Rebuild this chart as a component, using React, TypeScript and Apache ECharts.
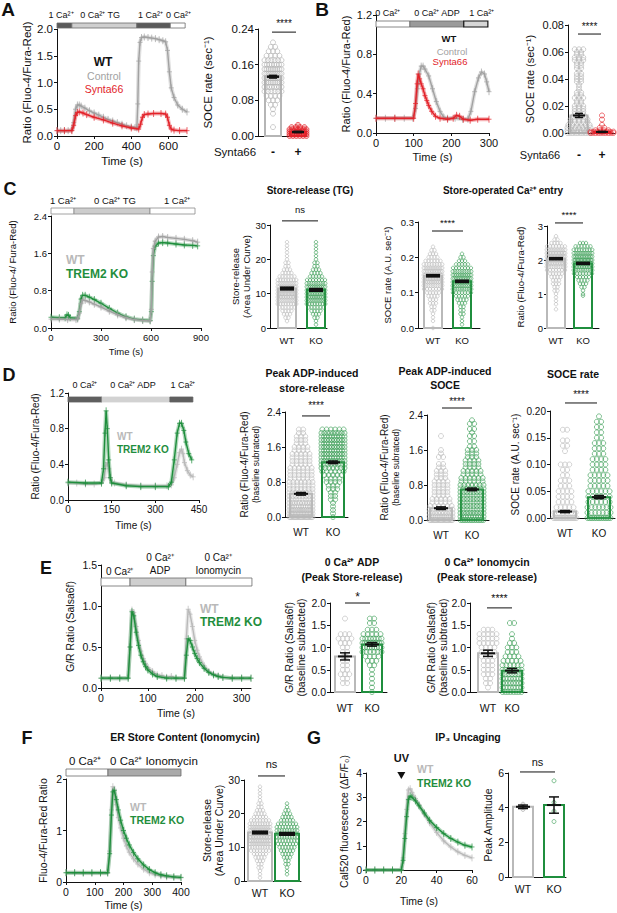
import React, { useEffect, useRef } from "react";
import * as echarts from "echarts";

const FONT = "'Liberation Sans', Arial, Helvetica, sans-serif";
const BLACK = "#111111";
const GRAY = "#a2a2a2";
const LIGHT = "#b9b9b9";
const RED = "#e2232a";
const GREEN = "#1f8e3d";
const GREEN_PT = "#3b9e55";

// ---------------- time traces: [time (s), ratio] ----------------
const aControl = [[0,0.10],[20,0.10],[40,0.10],[60,0.10],[80,0.11],[90,0.25],[100,0.50],[110,0.58],[120,0.58],[130,0.56],[150,0.52],[175,0.47],[200,0.43],[225,0.39],[250,0.35],[275,0.31],[300,0.28],[325,0.25],[350,0.22],[375,0.19],[400,0.17],[420,0.16],[430,0.15],[435,0.60],[440,1.40],[447,1.75],[455,1.84],[470,1.85],[490,1.84],[510,1.83],[530,1.82],[550,1.80],[570,1.78],[585,1.76],[595,1.60],[605,1.20],[615,0.90],[630,0.72],[650,0.58],[675,0.50],[700,0.45]];
const aSynta66 = [[0,0.10],[40,0.10],[80,0.10],[90,0.20],[100,0.38],[110,0.44],[120,0.45],[140,0.43],[160,0.40],[200,0.35],[250,0.30],[300,0.24],[350,0.19],[400,0.15],[440,0.13],[450,0.22],[460,0.35],[470,0.40],[490,0.41],[520,0.42],[560,0.42],[585,0.41],[595,0.35],[605,0.20],[615,0.13],[630,0.11],[660,0.10],[700,0.10]];

const bControl = [[0,0.15],[25,0.15],[50,0.15],[75,0.15],[98,0.15],[105,0.25],[110,0.45],[115,0.60],[120,0.68],[125,0.68],[130,0.65],[140,0.58],[150,0.45],[160,0.32],[170,0.22],[180,0.16],[190,0.15],[210,0.15],[230,0.14],[244,0.14],[252,0.22],[262,0.42],[272,0.56],[280,0.62],[288,0.60],[294,0.52],[300,0.42]];
const bSynta66 = [[0,0.15],[50,0.15],[100,0.15],[105,0.30],[109,0.50],[112,0.60],[116,0.55],[120,0.50],[125,0.45],[130,0.38],[135,0.33],[140,0.28],[148,0.22],[158,0.17],[170,0.15],[190,0.14],[205,0.15],[214,0.18],[222,0.17],[232,0.14],[250,0.13],[270,0.14],[300,0.14]];

const cWT = [[0,0.19],[50,0.19],[100,0.18],[150,0.18],[160,0.19],[170,0.32],[180,0.52],[190,0.60],[205,0.59],[230,0.56],[260,0.51],[300,0.45],[350,0.36],[400,0.28],[450,0.22],[500,0.18],[550,0.16],[595,0.15],[602,0.40],[607,1.20],[614,1.70],[625,1.86],[645,1.95],[670,1.96],[700,1.94],[750,1.92],[800,1.90],[850,1.87],[880,1.84]];
const cKO = [[0,0.23],[50,0.22],[85,0.22],[96,0.28],[105,0.27],[115,0.22],[160,0.21],[170,0.35],[180,0.62],[190,0.70],[205,0.70],[230,0.66],[260,0.61],[300,0.53],[350,0.42],[400,0.32],[450,0.24],[500,0.19],[550,0.17],[595,0.16],[602,0.35],[607,1.00],[614,1.55],[625,1.75],[645,1.82],[670,1.83],[700,1.82],[750,1.80],[800,1.78],[850,1.77],[880,1.76]];

const dWT = [[0,0.19],[30,0.19],[60,0.18],[90,0.18],[115,0.19],[125,0.25],[130,0.38],[135,0.42],[140,0.35],[145,0.25],[150,0.20],[160,0.19],[200,0.17],[250,0.16],[300,0.16],[340,0.16],[355,0.17],[365,0.25],[375,0.40],[383,0.53],[390,0.57],[395,0.52],[400,0.42],[410,0.33],[420,0.28],[430,0.26]];
const dKO = [[0,0.20],[60,0.19],[115,0.19],[122,0.35],[127,0.75],[131,1.00],[135,0.80],[140,0.45],[145,0.25],[150,0.19],[200,0.16],[250,0.15],[300,0.15],[345,0.15],[355,0.20],[365,0.45],[375,0.75],[383,0.86],[390,0.86],[398,0.78],[405,0.65],[415,0.52],[425,0.45]];

const eWT = [[0,0.12],[20,0.12],[40,0.12],[58,0.12],[62,0.50],[66,0.95],[70,0.92],[75,0.75],[80,0.58],[85,0.45],[90,0.36],[95,0.30],[100,0.25],[110,0.20],[120,0.16],[130,0.15],[140,0.13],[150,0.14],[160,0.12],[178,0.12],[182,0.60],[186,0.96],[190,0.90],[195,0.75],[200,0.58],[205,0.46],[210,0.38],[220,0.27],[230,0.20],[240,0.17],[250,0.15],[260,0.13],[280,0.12],[300,0.12],[320,0.12]];
const eKO = [[0,0.12],[20,0.12],[40,0.12],[58,0.12],[62,0.50],[66,0.93],[70,0.88],[75,0.68],[80,0.52],[85,0.40],[90,0.32],[95,0.26],[100,0.22],[110,0.17],[120,0.14],[140,0.12],[160,0.12],[178,0.12],[182,0.40],[186,0.60],[190,0.58],[195,0.50],[200,0.42],[205,0.36],[210,0.31],[220,0.24],[230,0.19],[240,0.16],[250,0.14],[260,0.13],[280,0.12],[300,0.12],[320,0.12]];

const fWT = [[0,0.18],[30,0.18],[60,0.17],[90,0.17],[120,0.17],[145,0.17],[152,0.60],[158,1.40],[163,1.85],[168,1.80],[175,1.50],[182,1.25],[190,1.05],[200,0.85],[210,0.70],[220,0.58],[235,0.45],[250,0.35],[270,0.25],[290,0.18],[310,0.14],[330,0.12],[350,0.10],[375,0.09],[400,0.08]];
const fKO = [[0,0.18],[30,0.18],[60,0.18],[90,0.18],[120,0.18],[145,0.18],[152,0.55],[158,1.30],[163,1.75],[168,1.78],[175,1.60],[182,1.40],[190,1.20],[200,1.00],[210,0.85],[220,0.72],[235,0.57],[250,0.45],[270,0.33],[290,0.24],[310,0.18],[330,0.14],[350,0.12],[375,0.10],[400,0.09]];

const gWT = [[0,0],[5,0],[10,0],[15,0],[20,0],[21,0.5],[22,1.5],[23,2.5],[24,3.3],[25,3.35],[26,3.2],[28,2.95],[30,2.7],[33,2.3],[36,1.95],[40,1.55],[44,1.2],[48,0.95],[52,0.75],[56,0.6],[60,0.5]];
const gKO = [[0,0],[5,0],[10,0],[15,0],[20,0],[21,0.4],[22,1.3],[23,2.2],[24,2.9],[25,3.05],[26,3.0],[28,2.85],[30,2.65],[33,2.35],[36,2.05],[40,1.75],[44,1.5],[48,1.3],[52,1.15],[56,1.02],[60,0.95]];

// ---------------- individual cells: [value, number of cells at that value] ----------------
const aCtrlCells = [[0.21,1],[0.20,2],[0.19,3],[0.18,4],[0.17,6],[0.16,8],[0.15,9],[0.14,10],[0.13,10],[0.12,9],[0.11,8],[0.10,6],[0.09,4],[0.08,3],[0.07,2],[0.06,1],[0.05,1],[0.02,1]];
const aSyntaCells = [[0.025,1],[0.02,4],[0.015,7],[0.01,9],[0.005,8],[0,6]];
const bCtrlCells = [[0.062,3],[0.060,2],[0.058,2],[0.056,3],[0.054,3],[0.052,2],[0.050,2],[0.048,2],[0.046,1],[0.044,2],[0.042,2],[0.040,2],[0.038,2],[0.036,1],[0.034,1],[0.032,1],[0.030,2],[0.028,2],[0.026,3],[0.024,2],[0.022,2],[0.020,3],[0.018,3],[0.016,3],[0.014,3],[0.012,4],[0.010,5],[0.008,5],[0.006,6],[0.004,7],[0.002,8],[0,10]];
const bSyntaCells = [[0.013,1],[0.010,1],[0.006,1],[0.004,2],[0.002,4],[0.001,8],[0,10]];
const c1WTCells = [[25,1],[24,1],[23,1],[22,1],[21,1],[20,1],[19,2],[18,2],[17,3],[16,4],[15,6],[14,8],[13,10],[12,12],[11,14],[10,14],[9,12],[8,10],[7,8],[6,6],[5,4],[4,3],[3,2],[2,1]];
const c1KOCells = [[25,1],[24,1],[23,1],[22,1],[21,1],[20,1],[19,2],[18,2],[17,3],[16,4],[15,5],[14,7],[13,9],[12,11],[11,12],[10,12],[9,11],[8,10],[7,8],[6,6],[5,4],[4,3],[3,2],[2,1],[1,1]];
const c2WTCells = [[0.23,1],[0.22,2],[0.21,3],[0.20,4],[0.19,6],[0.18,8],[0.17,10],[0.16,12],[0.15,13],[0.14,13],[0.13,11],[0.12,9],[0.11,7],[0.10,5],[0.09,4],[0.08,3],[0.07,3],[0.06,2],[0.05,2],[0.04,1],[0.03,1],[0.02,1],[0,1]];
const c2KOCells = [[0.21,1],[0.20,2],[0.19,3],[0.18,5],[0.17,7],[0.16,9],[0.15,11],[0.14,12],[0.13,12],[0.12,11],[0.11,9],[0.10,7],[0.09,5],[0.08,4],[0.07,3],[0.06,2],[0.05,2],[0.04,2],[0.03,1],[0.02,1],[0.01,1]];
const c3WTCells = [[2.7,1],[2.6,2],[2.5,4],[2.4,7],[2.3,10],[2.2,13],[2.1,14],[2.0,14],[1.9,12],[1.8,9],[1.7,7],[1.6,5],[1.5,4],[1.4,3],[1.3,3],[1.2,2],[1.1,2],[1.0,1],[0.9,1],[0.8,1],[0.7,1],[0.55,1]];
const c3KOCells = [[2.5,3],[2.4,6],[2.3,8],[2.2,10],[2.1,12],[2.0,14],[1.9,14],[1.8,12],[1.7,9],[1.6,7],[1.5,5],[1.4,4],[1.3,3],[1.2,2],[1.1,1],[1.0,1],[0.95,1]];
const d1WTCells = [[2.0,2],[1.92,2],[1.84,3],[1.76,3],[1.68,3],[1.6,4],[1.52,4],[1.44,5],[1.36,5],[1.28,5],[1.2,5],[1.12,6],[1.04,6],[0.96,6],[0.88,6],[0.8,7],[0.72,7],[0.64,7],[0.56,8],[0.48,8],[0.4,8],[0.32,10],[0.24,11],[0.16,13],[0.08,16],[0,20]];
const d1KOCells = [[2.0,6],[1.92,9],[1.84,10],[1.76,10],[1.68,10],[1.6,10],[1.52,10],[1.44,10],[1.36,10],[1.28,9],[1.2,8],[1.12,7],[1.04,6],[0.96,5],[0.88,4],[0.8,4],[0.72,3],[0.64,3],[0.56,2],[0.48,2],[0.4,2],[0.32,1],[0.24,1],[0.16,1],[0.08,1],[0,1]];
const d2WTCells = [[1.92,1],[1.6,1],[1.52,1],[1.44,2],[1.28,2],[1.2,2],[1.12,3],[1.04,3],[0.96,3],[0.88,4],[0.8,4],[0.72,4],[0.64,4],[0.56,4],[0.48,5],[0.4,5],[0.32,6],[0.24,7],[0.16,9],[0.08,12],[0,20]];
const d2KOCells = [[2.28,1],[2.2,2],[2.08,2],[2.0,1],[1.92,2],[1.8,2],[1.68,2],[1.6,3],[1.52,3],[1.44,3],[1.36,4],[1.28,4],[1.2,4],[1.12,5],[1.04,5],[0.96,6],[0.88,6],[0.8,7],[0.72,8],[0.64,8],[0.56,8],[0.48,8],[0.4,8],[0.32,8],[0.24,8],[0.16,9],[0.08,10],[0,14]];
const d3WTCells = [[0.165,2],[0.145,2],[0.135,2],[0.125,1],[0.10,3],[0.09,2],[0.08,2],[0.07,3],[0.06,3],[0.05,4],[0.04,4],[0.03,4],[0.02,5],[0.01,6],[0,16]];
const d3KOCells = [[0.19,1],[0.18,2],[0.17,2],[0.16,2],[0.15,2],[0.14,3],[0.13,3],[0.12,3],[0.11,4],[0.10,4],[0.09,4],[0.08,5],[0.07,5],[0.06,5],[0.05,6],[0.04,6],[0.03,6],[0.02,7],[0.01,7],[0,14]];
const e1WTCells = [[1.65,1],[1.3,3],[1.2,4],[1.1,3],[1.0,2],[0.9,2],[0.8,1],[0.7,2],[0.6,2],[0.5,2],[0.4,3],[0.3,2],[0.2,2]];
const e1KOCells = [[1.65,2],[1.55,2],[1.4,3],[1.3,5],[1.2,8],[1.1,10],[1.0,9],[0.9,6],[0.8,4],[0.7,3],[0.6,2],[0.5,1],[0.4,1],[0.3,1],[0.2,1],[0.1,1],[0.0,1]];
const e2WTCells = [[1.4,3],[1.3,5],[1.2,5],[1.1,5],[1.0,4],[0.9,4],[0.8,4],[0.7,3],[0.6,3],[0.5,3],[0.4,3],[0.3,2],[0.2,2],[0.1,1]];
const e2KOCells = [[1.55,2],[1.3,1],[1.2,1],[1.1,2],[1.0,3],[0.9,3],[0.8,4],[0.7,5],[0.6,6],[0.5,7],[0.4,7],[0.3,8],[0.2,8],[0.1,8],[0.0,8]];
const fWTCells = [[28,1],[27,1],[26,1],[25,1],[24,1],[23,2],[22,2],[21,3],[20,4],[19,5],[18,7],[17,9],[16,11],[15,13],[14,14],[13,14],[12,13],[11,11],[10,9],[9,7],[8,5],[7,4],[6,3],[5,2],[4,2],[3,1],[2,1],[1,1]];
const fKOCells = [[23,1],[22,1],[21,2],[20,3],[19,4],[18,5],[17,7],[16,8],[15,9],[14,9],[13,9],[12,8],[11,7],[10,6],[9,5],[8,4],[7,3],[6,2],[5,2],[4,1],[3,1],[2,1]];
const gWTCells = [[4.2,1],[4.1,1],[4.0,1],[3.9,1]];
const gKOCells = [[5.55,1],[4.3,1],[3.8,1],[3.2,1]];

// ---------------- means and SEM ----------------
const aMean = [0.133, 0.009]; const aSem = [0.003, 0.0012];
const bMean = [0.013, 0.0008]; const bSem = [0.0015, 0.0004];
const c1Mean = [11.5, 11.1]; const c1Sem = [0.4, 0.4];
const c2Mean = [0.148, 0.132]; const c2Sem = [0.003, 0.003];
const c3Mean = [2.04, 1.90]; const c3Sem = [0.03, 0.03];
const d1Mean = [0.53, 1.25]; const d1Sem = [0.03, 0.03];
const d2Mean = [0.27, 0.70]; const d2Sem = [0.03, 0.03];
const d3Mean = [0.012, 0.039]; const d3Sem = [0.002, 0.003];
const e1Mean = [0.80, 1.07]; const e1Sem = [0.08, 0.04];
const e2Mean = [0.87, 0.48]; const e2Sem = [0.07, 0.05];
const fMean = [14.4, 14.0]; const fSem = [0.4, 0.4];
const gMean = [4.05, 4.15]; const gSem = [0.1, 0.47];

const PLUS = "path://M2,0L2,8M0,4L4,4";

function buildOption(): any {
  const grids: any[] = [];
  const xAxes: any[] = [];
  const yAxes: any[] = [];
  const series: any[] = [];

  const base = (fs: number) => ({
    nameMoveOverlap: false,
    axisLine: { show: true, onZero: false, lineStyle: { color: BLACK, width: 1 } },
    axisTick: { show: true, length: 3, lineStyle: { color: BLACK, width: 1 } },
    splitLine: { show: false },
    axisLabel: { color: BLACK, fontSize: fs, fontFamily: FONT, margin: 4 },
    nameTextStyle: { color: BLACK, fontSize: fs, fontFamily: FONT },
  });

  function addGrid(g: number[], x: any, y: any) {
    grids.push({ left: g[0], top: g[1], width: g[2], height: g[3] });
    const gi = grids.length - 1;
    xAxes.push({ ...x, gridIndex: gi });
    yAxes.push({ ...y, gridIndex: gi });
    return gi;
  }

  function linePanel(c: any) {
    const b = base(c.fs);
    const gi = addGrid(
      c.grid,
      {
        ...b, type: "value", min: 0, max: c.xMax, interval: c.xInt,
        name: "Time (s)", nameLocation: "middle", nameGap: c.xGap,
        axisTick: { ...b.axisTick, customValues: c.xTicks },
        axisLabel: { ...b.axisLabel, customValues: c.xTicks, formatter: (v: number) => String(v) },
      },
      {
        ...b, type: "value", min: 0, max: c.yMax, interval: c.yInt,
        name: c.yName, nameLocation: "middle", nameRotate: 90, nameGap: c.yGap,
        axisLabel: { ...b.axisLabel, formatter: (v: number) => v.toFixed(c.yDec) },
      }
    );
    c.traces.forEach((t: any, i: number) => {
      series.push({
        type: "line", xAxisIndex: gi, yAxisIndex: gi, data: t.data, symbol: "none",
        lineStyle: { color: t.color, width: 4, opacity: 0.35 }, silent: true, z: 2 + i * 2,
      });
      series.push({
        type: "line", xAxisIndex: gi, yAxisIndex: gi, data: t.data, symbol: PLUS, symbolSize: [5, 7],
        showSymbol: true, showAllSymbol: true,
        itemStyle: { color: t.color, borderColor: t.color, borderWidth: 0.7 },
        lineStyle: { color: t.color, width: 1.4 }, silent: true, z: 3 + i * 2,
      });
    });
    if (c.protocol) {
      const p = c.protocol;
      series.push({
        type: "custom", xAxisIndex: gi, yAxisIndex: gi, clip: false, silent: true, z: 10,
        data: [[0, c.yMax]],
        renderItem: (params: any, api: any) => {
          const children: any[] = [];
          p.segs.forEach((s: any) => {
            const a = api.coord([s.from, c.yMax]);
            const e = api.coord([s.to, c.yMax]);
            children.push({
              type: "rect",
              shape: { x: a[0], y: a[1] + p.y0, width: e[0] - a[0], height: p.y1 - p.y0 },
              style: { fill: s.fill, stroke: s.stroke || "#6a6a6a", lineWidth: s.lw || 0.8 },
            });
          });
          p.labels.forEach((l: any) => {
            const a = api.coord([l.t, c.yMax]);
            children.push({
              type: "text",
              style: {
                text: l.text, x: a[0], y: a[1] + l.dy, align: "center", verticalAlign: "middle",
                fontSize: p.fs, fontFamily: FONT, fill: BLACK, lineHeight: p.fs + 3,
              },
            });
          });
          return { type: "group", children };
        },
      });
    }
    return gi;
  }

  function swarm(cells: number[][], center: number, size: number, spread: number) {
    const pts: number[][] = [];
    cells.forEach(([v, n]) => {
      let sp = size * 0.85;
      const half = Math.max(0, spread / 2 - size / 2);
      if (n > 1 && ((n - 1) * sp) / 2 > half) sp = (2 * half) / (n - 1);
      for (let i = 0; i < n; i++) pts.push([center + (i - (n - 1) / 2) * sp, v]);
    });
    return pts;
  }

  function barPanel(c: any) {
    const b = base(c.fs);
    const gi = addGrid(
      c.grid,
      { ...b, type: "value", min: 0, max: c.grid[2], axisTick: { show: false }, axisLabel: { show: false } },
      {
        ...b, type: "value", min: 0, max: c.yMax, interval: c.yInt,
        name: c.yName, nameLocation: "middle", nameRotate: 90, nameGap: c.yGap,
        nameTextStyle: { ...b.nameTextStyle, ...(c.nameStyle || {}) },
        axisLabel: { ...b.axisLabel, formatter: (v: number) => v.toFixed(c.yDec) },
      }
    );
    const groups = c.groups;
    series.push({
      type: "custom", xAxisIndex: gi, yAxisIndex: gi, clip: false, silent: true, z: 2,
      data: groups.map((g: any) => [g.center, g.mean]),
      renderItem: (params: any, api: any) => {
        const g = groups[params.dataIndex];
        const x = api.value(0);
        const p0 = api.coord([x, 0]);
        const p1 = api.coord([x, api.value(1)]);
        return {
          type: "group",
          children: [
            {
              type: "rect",
              shape: { x: p0[0] - c.bw / 2, y: p1[1], width: c.bw, height: p0[1] - p1[1] },
              style: { fill: "none", stroke: g.color, lineWidth: c.barLW },
            },
            {
              type: "text",
              style: {
                text: g.label, x: p0[0], y: p0[1] + c.labelGap, align: "center", verticalAlign: "middle",
                fontSize: c.catFs || c.fs, fontWeight: c.catBold ? "bold" : "normal", fontFamily: FONT, fill: BLACK,
              },
            },
          ],
        };
      },
    });
    groups.forEach((g: any) => {
      series.push({
        type: "scatter", xAxisIndex: gi, yAxisIndex: gi, clip: false, silent: true, z: 3,
        data: swarm(g.cells, g.center, c.ptSize, c.spread),
        symbol: "circle", symbolSize: c.ptSize,
        itemStyle: { color: g.ptFill || "rgba(255,255,255,0)", borderColor: g.ptColor, borderWidth: 0.8 },
      });
    });
    series.push({
      type: "custom", xAxisIndex: gi, yAxisIndex: gi, clip: false, silent: true, z: 5,
      data: groups.map((g: any) => [g.center, g.mean, g.sem]),
      renderItem: (params: any, api: any) => {
        const x = api.value(0), m = api.value(1), s = api.value(2);
        const pm = api.coord([x, m]);
        const ph = api.coord([x, m + s]);
        const pl = api.coord([x, Math.max(0, m - s)]);
        const st = { stroke: BLACK, lineWidth: c.errLW };
        return {
          type: "group",
          children: [
            { type: "line", shape: { x1: pm[0], y1: ph[1], x2: pm[0], y2: pl[1] }, style: st },
            { type: "line", shape: { x1: pm[0] - c.capW / 2, y1: ph[1], x2: pm[0] + c.capW / 2, y2: ph[1] }, style: st },
            { type: "line", shape: { x1: pm[0] - c.capW / 2, y1: pl[1], x2: pm[0] + c.capW / 2, y2: pl[1] }, style: st },
            { type: "line", shape: { x1: pm[0] - c.meanW / 2, y1: pm[1], x2: pm[0] + c.meanW / 2, y2: pm[1] }, style: { stroke: BLACK, lineWidth: c.meanLW } },
          ],
        };
      },
    });
    const sg = c.sig;
    series.push({
      type: "custom", xAxisIndex: gi, yAxisIndex: gi, clip: false, silent: true, z: 6,
      data: [[sg.x1, sg.y, sg.x2]],
      renderItem: (params: any, api: any) => {
        const a = api.coord([api.value(0), api.value(1)]);
        const e = api.coord([api.value(2), api.value(1)]);
        return {
          type: "group",
          children: [
            { type: "line", shape: { x1: a[0], y1: a[1], x2: e[0], y2: e[1] }, style: { stroke: BLACK, lineWidth: 1 } },
            {
              type: "text",
              style: {
                text: sg.text, x: (a[0] + e[0]) / 2, y: a[1] - sg.dy, align: "center", verticalAlign: "middle",
                fontSize: sg.fs || c.fs, fontFamily: FONT, fill: BLACK,
              },
            },
          ],
        };
      },
    });
    return gi;
  }

  const grp = (label: string, center: number, color: string, ptColor: string, cells: number[][], mean: number, sem: number, ptFill?: string) =>
    ({ label, center, color, ptColor, cells, mean, sem, ptFill });

  // ---------------- A ----------------
  linePanel({
    grid: [57, 29, 130, 107], xMax: 700, xInt: 100, xTicks: [0, 200, 400, 600], yMax: 2, yInt: 0.5, yDec: 1,
    fs: 11.5, yName: "Ratio (Fluo-4/Fura-Red)", yGap: 24, xGap: 19,
    traces: [{ data: aControl, color: GRAY }, { data: aSynta66, color: RED }],
    protocol: {
      y0: -6, y1: -1, fs: 9,
      segs: [
        { from: 0, to: 80, fill: "#5a5a5a" }, { from: 80, to: 430, fill: "#cfcfcf" },
        { from: 430, to: 610, fill: "#5a5a5a" }, { from: 610, to: 690, fill: "#ffffff" },
      ],
      labels: [
        { t: 22, text: "1 Ca²⁺", dy: -14 }, { t: 232, text: "0 Ca²⁺ TG", dy: -14 },
        { t: 503, text: "1 Ca²⁺", dy: -14 }, { t: 654, text: "0 Ca²⁺", dy: -14 },
      ],
    },
  });
  barPanel({
    grid: [258, 29, 49, 107], yMax: 0.24, yInt: 0.08, yDec: 2, fs: 11.5, yName: "SOCE rate (sec⁻¹)", yGap: 44,
    bw: 16, barLW: 2, ptSize: 5, spread: 22, labelGap: 16, catBold: true, catFs: 12,
    errLW: 1.5, capW: 8, meanW: 12, meanLW: 2.5,
    groups: [
      grp("-", 15, "#b5b5b5", "#b0b0b0", aCtrlCells, aMean[0], aSem[0]),
      grp("+", 40, RED, RED, aSyntaCells, aMean[1], aSem[1], "rgba(226,35,42,0.35)"),
    ],
    sig: { x1: 14, x2: 38, y: 0.233, text: "****", dy: 9, fs: 10 },
  });

  // ---------------- B ----------------
  linePanel({
    grid: [376, 15, 113, 118], xMax: 300, xInt: 100, xTicks: [0, 100, 200, 300], yMax: 1.2, yInt: 0.4, yDec: 1,
    fs: 11, yName: "Ratio (Fluo-4/Fura-Red)", yGap: 25, xGap: 18,
    traces: [{ data: bControl, color: GRAY }, { data: bSynta66, color: RED }],
    protocol: {
      y0: 6, y1: 12, fs: 9,
      segs: [
        { from: 0, to: 90, fill: "#ffffff" }, { from: 90, to: 233, fill: "#9a9a9a" },
        { from: 233, to: 297, fill: "#d6d6d6", stroke: "#111", lw: 1.2 },
      ],
      labels: [
        { t: 31, text: "0 Ca²⁺", dy: -2 }, { t: 162, text: "0 Ca²⁺ ADP", dy: -2 }, { t: 281, text: "1 Ca²⁺", dy: -2 },
      ],
    },
  });
  barPanel({
    grid: [568, 25, 47, 108], yMax: 0.08, yInt: 0.02, yDec: 2, fs: 11, yName: "SOCE rate (sec⁻¹)", yGap: 33,
    bw: 17, barLW: 2, ptSize: 5, spread: 28, labelGap: 22, catBold: true, catFs: 12,
    errLW: 1.5, capW: 8, meanW: 12, meanLW: 2,
    groups: [
      grp("-", 11, "#b5b5b5", "#b0b0b0", bCtrlCells, bMean[0], bSem[0]),
      grp("+", 34, RED, RED, bSyntaCells, bMean[1], bSem[1]),
    ],
    sig: { x1: 10, x2: 33, y: 0.0733, text: "****", dy: 8, fs: 10 },
  });

  // ---------------- C ----------------
  linePanel({
    grid: [51, 216, 150, 112], xMax: 900, xInt: 300, xTicks: [0, 300, 600, 900], yMax: 2.4, yInt: 0.8, yDec: 1,
    fs: 9.5, yName: "Ratio (Fluo-4/ Fura-Red)", yGap: 34, xGap: 18,
    traces: [{ data: cKO, color: GREEN }, { data: cWT, color: GRAY }],
    protocol: {
      y0: -8, y1: -2, fs: 9.5,
      segs: [
        { from: 0, to: 138, fill: "#ffffff", stroke: "#8a8a8a" }, { from: 138, to: 594, fill: "#cdcdcd", stroke: "#8a8a8a" },
        { from: 594, to: 864, fill: "#ffffff", stroke: "#8a8a8a" },
      ],
      labels: [
        { t: 72, text: "1 Ca²⁺", dy: -16 }, { t: 384, text: "0 Ca²⁺ TG", dy: -16 }, { t: 756, text: "1 Ca²⁺", dy: -16 },
      ],
    },
  });
  const cBar = { fs: 9.5, bw: 18, barLW: 2, ptSize: 3.5, spread: 22, labelGap: 12, errLW: 1.5, capW: 14, meanW: 14, meanLW: 3 };
  barPanel({
    ...cBar, grid: [270, 225, 57, 103], yMax: 30, yInt: 10, yDec: 0, yName: "Store-release\n(Area Under Curve)", yGap: 18,
    nameStyle: { lineHeight: 11 },
    groups: [
      grp("WT", 17, LIGHT, LIGHT, c1WTCells, c1Mean[0], c1Sem[0]),
      grp("KO", 46, GREEN, GREEN_PT, c1KOCells, c1Mean[1], c1Sem[1]),
    ],
    sig: { x1: 12, x2: 48, y: 31.2, text: "ns", dy: 11 },
  });
  barPanel({
    ...cBar, grid: [418, 222, 62, 106], yMax: 0.3, yInt: 0.1, yDec: 1, yName: "SOCE rate (A.U. sec⁻¹)", yGap: 26,
    groups: [
      grp("WT", 15, LIGHT, LIGHT, c2WTCells, c2Mean[0], c2Sem[0]),
      grp("KO", 44, GREEN, GREEN_PT, c2KOCells, c2Mean[1], c2Sem[1]),
    ],
    sig: { x1: 14, x2: 45, y: 0.2745, text: "****", dy: 9 },
  });
  barPanel({
    ...cBar, grid: [547, 226, 52, 102], yMax: 3, yInt: 1, yDec: 0, yName: "Ratio (Fluo-4/Fura-Red)", yGap: 22,
    groups: [
      grp("WT", 9, LIGHT, LIGHT, c3WTCells, c3Mean[0], c3Sem[0]),
      grp("KO", 36, GREEN, GREEN_PT, c3KOCells, c3Mean[1], c3Sem[1]),
    ],
    sig: { x1: 8, x2: 36, y: 3.09, text: "****", dy: 8 },
  });

  // ---------------- D ----------------
  linePanel({
    grid: [68, 393, 131, 107], xMax: 450, xInt: 150, xTicks: [0, 150, 300, 450], yMax: 1.2, yInt: 0.4, yDec: 1,
    fs: 10, yName: "Ratio (Fluo-4/Fura-Red)", yGap: 28, xGap: 20,
    traces: [{ data: dWT, color: LIGHT }, { data: dKO, color: GREEN }],
    protocol: {
      y0: 4, y1: 9, fs: 9,
      segs: [
        { from: 0, to: 117, fill: "#5f5f5f", stroke: "#5f5f5f" }, { from: 117, to: 350, fill: "#d2d2d2", stroke: "#d2d2d2" },
        { from: 350, to: 429, fill: "#5f5f5f", stroke: "#5f5f5f" },
      ],
      labels: [
        { t: 58, text: "0 Ca²⁺", dy: -8 }, { t: 223, text: "0 Ca²⁺ ADP", dy: -8 }, { t: 395, text: "1 Ca²⁺", dy: -8 },
      ],
    },
  });
  const dBar = { fs: 10, bw: 22, barLW: 2, ptSize: 5, spread: 28, labelGap: 15, errLW: 1.5, capW: 10, meanW: 14, meanLW: 2 };
  const dName = { rich: { a: { fontSize: 10, fontFamily: FONT, color: BLACK, lineHeight: 12 }, b: { fontSize: 8.5, fontFamily: FONT, color: BLACK, lineHeight: 11 } } };
  barPanel({
    ...dBar, grid: [285, 412, 63, 105], yMax: 2.4, yInt: 0.8, yDec: 1,
    yName: "{a|Ratio (Fluo-4/Fura-Red)}\n{b|(baseline subratced)}", yGap: 24, nameStyle: dName,
    groups: [
      grp("WT", 16, LIGHT, LIGHT, d1WTCells, d1Mean[0], d1Sem[0]),
      grp("KO", 48, GREEN, GREEN_PT, d1KOCells, d1Mean[1], d1Sem[1]),
    ],
    sig: { x1: 17, x2: 45, y: 2.31, text: "****", dy: 10 },
  });
  barPanel({
    ...dBar, grid: [427, 415, 62, 105], yMax: 2.4, yInt: 0.8, yDec: 1,
    yName: "{a|Ratio (Fluo-4/Fura-Red)}\n{b|(baseline subratced)}", yGap: 26, nameStyle: dName,
    groups: [
      grp("WT", 14, LIGHT, LIGHT, d2WTCells, d2Mean[0], d2Sem[0]),
      grp("KO", 45, GREEN, GREEN_PT, d2KOCells, d2Mean[1], d2Sem[1]),
    ],
    sig: { x1: 15, x2: 45, y: 2.56, text: "****", dy: 7 },
  });
  barPanel({
    ...dBar, grid: [550, 411, 65, 107], yMax: 0.2, yInt: 0.05, yDec: 2, yName: "SOCE rate (A.U. sec⁻¹)", yGap: 30,
    groups: [
      grp("WT", 15, LIGHT, LIGHT, d3WTCells, d3Mean[0], d3Sem[0]),
      grp("KO", 49, GREEN, GREEN_PT, d3KOCells, d3Mean[1], d3Sem[1]),
    ],
    sig: { x1: 15, x2: 47, y: 0.215, text: "****", dy: 8 },
  });

  // ---------------- E ----------------
  linePanel({
    grid: [101, 565, 150, 123], xMax: 320, xInt: 100, xTicks: [0, 100, 200, 300], yMax: 1.5, yInt: 0.5, yDec: 1,
    fs: 10.5, yName: "G/R Ratio (Salsa6f)", yGap: 26, xGap: 19,
    traces: [{ data: eWT, color: LIGHT }, { data: eKO, color: GREEN }],
    protocol: {
      y0: 13, y1: 21, fs: 10,
      segs: [
        { from: 0, to: 62, fill: "#ffffff" }, { from: 62, to: 181, fill: "#cfcfcf" }, { from: 181, to: 322, fill: "#ffffff" },
      ],
      labels: [
        { t: 40, text: "0 Ca²⁺", dy: 6 }, { t: 126, text: "0 Ca²⁺\nADP", dy: -1 }, { t: 250, text: "0 Ca²⁺\nIonomycin", dy: -1 },
      ],
    },
  });
  const eBar = { fs: 10.5, bw: 20, barLW: 2, ptSize: 5, spread: 24, labelGap: 16, errLW: 1.5, capW: 10, meanW: 14, meanLW: 2 };
  const eName = { lineHeight: 12 };
  barPanel({
    ...eBar, grid: [330, 603, 57, 89], yMax: 2, yInt: 0.5, yDec: 1, yName: "G/R Ratio (Salsa6f)\n(baseline subtracted)", yGap: 23, nameStyle: eName,
    groups: [
      grp("WT", 15, LIGHT, LIGHT, e1WTCells, e1Mean[0], e1Sem[0]),
      grp("KO", 42, GREEN, GREEN_PT, e1KOCells, e1Mean[1], e1Sem[1]),
    ],
    sig: { x1: 15, x2: 40, y: 2.0, text: "*", dy: 6, fs: 12 },
  });
  barPanel({
    ...eBar, grid: [470, 603, 57, 89], yMax: 2, yInt: 0.5, yDec: 1, yName: "G/R Ratio (Salsa6f)\n(baseline subtracted)", yGap: 21, nameStyle: eName,
    groups: [
      grp("WT", 18, LIGHT, LIGHT, e2WTCells, e2Mean[0], e2Sem[0]),
      grp("KO", 42, GREEN, GREEN_PT, e2KOCells, e2Mean[1], e2Sem[1]),
    ],
    sig: { x1: 17, x2: 42, y: 1.89, text: "****", dy: 10 },
  });

  // ---------------- F ----------------
  linePanel({
    grid: [66, 779, 115, 103], xMax: 400, xInt: 100, xTicks: [0, 100, 200, 300, 400], yMax: 2, yInt: 1, yDec: 0,
    fs: 10.5, yName: "Fluo-4/Fura-Red Ratio", yGap: 18, xGap: 17,
    traces: [{ data: fWT, color: LIGHT }, { data: fKO, color: GREEN }],
    protocol: {
      y0: -10, y1: -3, fs: 11.5,
      segs: [{ from: 0, to: 146, fill: "#ffffff" }, { from: 146, to: 400, fill: "#aaaaaa" }],
      labels: [{ t: 66, text: "0 Ca²⁺", dy: -18 }, { t: 306, text: "0 Ca²⁺ Ionomycin", dy: -18 }],
    },
  });
  barPanel({
    fs: 10.5, bw: 24, barLW: 2, ptSize: 3.5, spread: 24, labelGap: 12, errLW: 1.5, capW: 16, meanW: 16, meanLW: 3,
    grid: [244, 780, 57, 101], yMax: 30, yInt: 10, yDec: 0, yName: "Store-release\n(Area Under Curve)", yGap: 19, nameStyle: { lineHeight: 12 },
    groups: [
      grp("WT", 16, LIGHT, LIGHT, fWTCells, fMean[0], fSem[0]),
      grp("KO", 43, GREEN, GREEN_PT, fKOCells, fMean[1], fSem[1]),
    ],
    sig: { x1: 14, x2: 41, y: 31.2, text: "ns", dy: 12, fs: 11 },
  });

  // ---------------- G ----------------
  const gLine = linePanel({
    grid: [366, 773, 106, 97], xMax: 60, xInt: 20, xTicks: [0, 20, 40, 60], yMax: 4, yInt: 1, yDec: 0,
    fs: 10.5, yName: "Cal520 fluorescence (ΔF/F₀)", yGap: 17, xGap: 25,
    traces: [{ data: gWT, color: LIGHT }, { data: gKO, color: GREEN }],
  });
  series.push({
    type: "custom", xAxisIndex: gLine, yAxisIndex: gLine, clip: false, silent: true, z: 10,
    data: [[20, 4]],
    renderItem: (params: any, api: any) => {
      const p = api.coord([api.value(0), api.value(1)]);
      return {
        type: "group",
        children: [
          { type: "text", style: { text: "UV", x: p[0], y: p[1] - 15, align: "center", verticalAlign: "middle", fontSize: 11, fontWeight: "bold", fontFamily: FONT, fill: BLACK } },
          { type: "polygon", shape: { points: [[p[0] - 4, p[1] - 1], [p[0] + 4, p[1] - 1], [p[0], p[1] + 6]] }, style: { fill: BLACK } },
        ],
      };
    },
  });
  barPanel({
    fs: 10.5, bw: 20, barLW: 2, ptSize: 4, spread: 14, labelGap: 12, errLW: 1.5, capW: 10, meanW: 14, meanLW: 2,
    grid: [508, 773, 58, 104], yMax: 6, yInt: 2, yDec: 0, yName: "Peak Amplitude", yGap: 15,
    groups: [
      grp("WT", 15, LIGHT, "#9a9a9a", gWTCells, gMean[0], gSem[0]),
      grp("KO", 46, GREEN, GREEN_PT, gKOCells, gMean[1], gSem[1]),
    ],
    sig: { x1: 12, x2: 47, y: 6.06, text: "ns", dy: 10, fs: 11 },
  });

  // ---------------- texts: panel letters, titles, legends ----------------
  const T = (text: string, x: number, y: number, fs: number, opts: any = {}) => ({
    type: "text", x, y, silent: true, z: 20,
    style: {
      text, fontSize: fs, fontFamily: FONT, fontWeight: opts.bold ? "bold" : "normal",
      fill: opts.color || BLACK, align: opts.align || "center", verticalAlign: "middle",
    },
  });
  const graphic = [
    T("A", 8, 9, 19, { bold: true }), T("B", 322, 9, 19, { bold: true }), T("C", 10, 189, 18, { bold: true }),
    T("D", 9, 375, 18, { bold: true }), T("E", 46, 568, 18, { bold: true }), T("F", 27, 738, 18, { bold: true }),
    T("G", 314, 738, 18, { bold: true }),
    T("WT", 103, 62, 12, { bold: true }), T("Control", 104, 76, 10.5, { color: GRAY }), T("Synta66", 104, 89, 10.5, { color: RED }),
    T("WT", 449, 38, 9.5, { bold: true }), T("Control", 452, 51, 9.5, { color: GRAY }), T("Synta66", 450, 61, 9.5, { color: RED }),
    T("Synta66", 235, 152, 11.5), T("Synta66", 540, 155, 11),
    T("WT", 66, 260, 12, { bold: true, color: LIGHT, align: "left" }), T("TREM2 KO", 66, 274, 12, { bold: true, color: GREEN, align: "left" }),
    T("Store-release (TG)", 310, 190, 10, { bold: true }), T("Store-operated Ca²⁺ entry", 503, 190, 10, { bold: true }),
    T("WT", 117, 436, 10, { bold: true, color: LIGHT, align: "left" }), T("TREM2 KO", 117, 449, 10, { bold: true, color: GREEN, align: "left" }),
    T("Peak ADP-induced", 312, 373, 10.5, { bold: true }), T("store-release", 312, 388, 10.5, { bold: true }),
    T("Peak ADP-induced", 445, 371, 10.5, { bold: true }), T("SOCE", 445, 385, 10.5, { bold: true }),
    T("SOCE rate", 573, 374, 10.5, { bold: true }),
    T("WT", 200, 609, 12, { bold: true, color: LIGHT, align: "left" }), T("TREM2 KO", 200, 622, 12, { bold: true, color: GREEN, align: "left" }),
    T("0 Ca²⁺ ADP", 352, 562, 10.5, { bold: true }), T("(Peak Store-release)", 352, 577, 10.5, { bold: true }),
    T("0 Ca²⁺ Ionomycin", 487, 562, 10.5, { bold: true }), T("(Peak store-release)", 487, 577, 10.5, { bold: true }),
    T("ER Store Content (Ionomycin)", 185, 737, 10.5, { bold: true }), T("IP₃ Uncaging", 468, 737, 10.5, { bold: true }),
    T("WT", 130, 807, 10.5, { bold: true, color: LIGHT, align: "left" }), T("TREM2 KO", 130, 820, 10.5, { bold: true, color: GREEN, align: "left" }),
    T("WT", 417, 769, 10.5, { bold: true, color: LIGHT, align: "left" }), T("TREM2 KO", 417, 783, 10.5, { bold: true, color: GREEN, align: "left" }),
  ];

  return {
    animation: false,
    backgroundColor: "#ffffff",
    textStyle: { fontFamily: FONT },
    grid: grids,
    xAxis: xAxes,
    yAxis: yAxes,
    series,
    graphic,
  };
}

export default function App() {
  const ref = useRef<HTMLDivElement>(null);
  useEffect(() => {
    if (!ref.current) return;
    const chart = echarts.init(ref.current, null, { renderer: "svg" });
    chart.setOption(buildOption());
    return () => chart.dispose();
  }, []);
  return (
    <div
      ref={ref}
      style={{ position: "absolute", left: 0, top: 0, width: 617, height: 913, background: "#ffffff" }}
    />
  );
}
